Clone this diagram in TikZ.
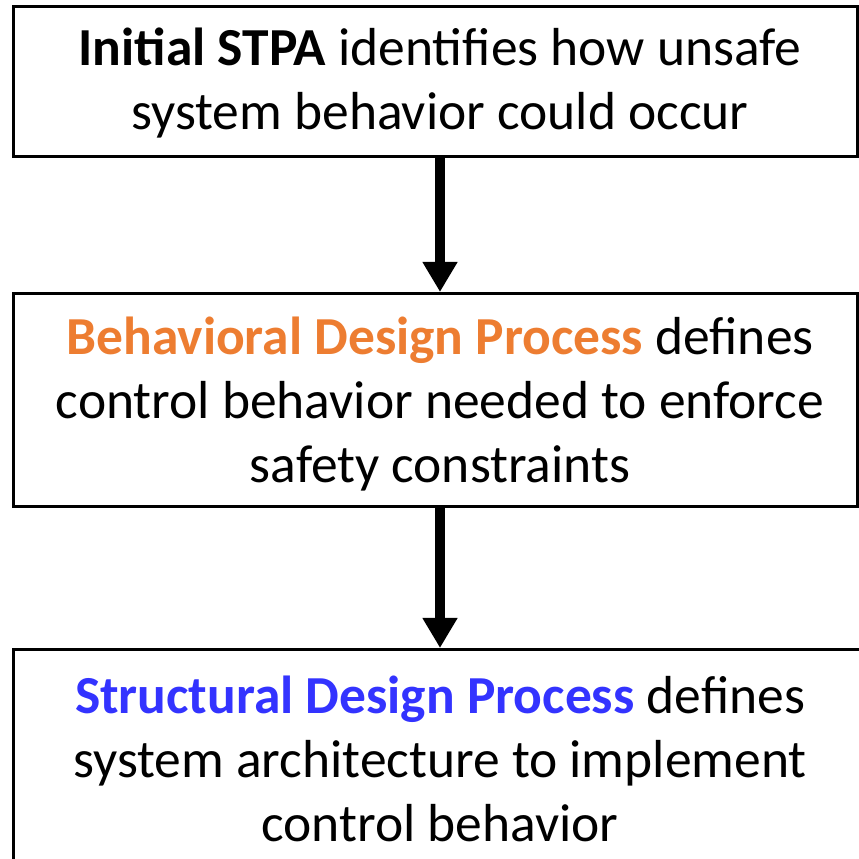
\documentclass[tikz,border=0pt]{standalone}
\usepackage{fontspec}
\setmainfont{Carlito}
\usetikzlibrary{arrows.meta}
\definecolor{behaviororange}{HTML}{ED7D31}
\definecolor{structureblue}{HTML}{3333FF}
\tikzset{
    stage/.style={draw, line width=3pt, inner sep=0pt},
    desc/.style={align=center, font=\fontsize{53.5}{64}\selectfont, inner sep=0pt},
    flow/.style={line width=10pt, -{Triangle[width=33pt, length=30pt]}}
}
\begin{document}
\begin{tikzpicture}[x=1pt, y=1pt]
    \useasboundingbox (0, 0) rectangle (859, 859);
    \clip (0, 0) rectangle (859, 859);

    % boxes
    \node[stage, minimum width=844pt, minimum height=150pt] (initial) at (435.5, 777.5) {};
    \node[stage, minimum width=844pt, minimum height=213pt] (behavioral) at (435.5, 459) {};
    \node[stage, minimum width=853pt, minimum height=217pt] (structural) at (440, 101) {};

    % texts
    \node[desc] (initialtext) at (440, 776) {\textbf{Initial STPA} identifies how unsafe\\system behavior could occur};
    \node[desc] (behavioraltext) at (440, 455) {\textcolor{behaviororange}{\textbf{Behavioral Design Process}} defines\\control behavior needed to enforce\\safety constraints};
    \node[desc] (structuraltext) at (440, 100) {\textcolor{structureblue}{\textbf{Structural Design Process}} defines\\system architecture to implement\\control behavior};

    % arrows
    \draw[flow] (initial.south -| initialtext) -- (behavioral.north -| initialtext);
    \draw[flow] (behavioral.south -| initialtext) -- (structural.north -| initialtext);
\end{tikzpicture}
\end{document}
